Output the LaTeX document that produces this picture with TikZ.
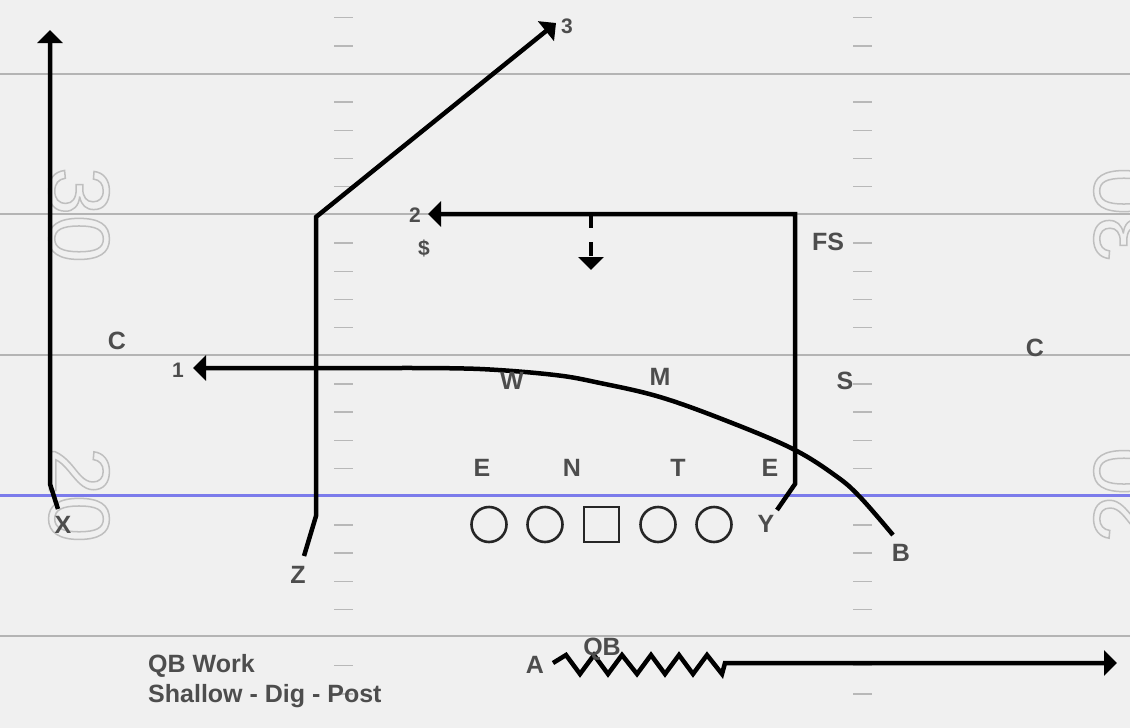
\documentclass[tikz,border=0pt]{standalone}
\usepackage{fontspec}
\setmainfont{Liberation Sans}
\usetikzlibrary{arrows.meta}
\definecolor{bg}{HTML}{F0F0F0}
\definecolor{yardline}{HTML}{B4B4B4}
\definecolor{hashc}{HTML}{B8B8B8}
\definecolor{losc}{HTML}{7B7BEB}
\definecolor{lbl}{HTML}{4D4D4D}
\newcommand{\outlinenum}[1]{\special{pdf:literal direct q 1 Tr 1.5 w 0.75 0.75 0.75 RG}#1\special{pdf:literal direct Q}}
\tikzset{
  lab/.style={inner sep=0pt, text=lbl, font=\fontsize{25}{25}\selectfont\bfseries},
  numlab/.style={inner sep=0pt, text=lbl, font=\fontsize{21}{21}\selectfont\bfseries},
  txt/.style={inner sep=0pt, anchor=west, text=lbl, font=\fontsize{25}{25}\selectfont\bfseries},
  route/.style={line width=4.5pt, black, line join=miter},
  tip/.style={-{Triangle[length=13pt,width=25pt]}},
  yardnum/.style={inner sep=0pt, font=\fontsize{86}{86}\selectfont},
  fline/.style={yardline, line width=2.5pt},
  hash/.style={hashc, line width=1.4pt},
  lineman/.style={draw=black!85, line width=2.6pt, minimum size=35pt, inner sep=0pt},
}
\begin{document}
\begin{tikzpicture}[x=1pt,y=-1pt]
\useasboundingbox (0,0) rectangle (1130,728);
\fill[bg] (0,0) rectangle (1130,728);
% field lines
\foreach \yy in {74,214,355,636} \draw[fline] (0,\yy) -- (1130,\yy);
\draw[losc, line width=3pt] (0,495) -- (1130,495);
% hash marks
\foreach \j in {-2,...,22} {
  \pgfmathtruncatemacro{\m}{mod(\j+10,5)}
  \ifnum\m=0\else
    \pgfmathsetmacro{\yy}{74+28.18*\j}
    \draw[hash] (334,\yy) -- (353,\yy);
    \draw[hash] (853,\yy) -- (872,\yy);
  \fi
}
% yard numbers
\node[yardnum, rotate=-90] (n30l) at (79,215) {\outlinenum{30}};
\node[yardnum, rotate=-90] (n20l) at (79,495) {\outlinenum{20}};
\node[yardnum, rotate=90] (n30r) at (1124,215) {\outlinenum{30}};
\node[yardnum, rotate=90] (n20r) at (1124,495) {\outlinenum{20}};

% route coordinates
\coordinate (xs) at (58,509);
\coordinate (xb) at (50,484);
\coordinate (xe) at (50,30);
\coordinate (zs) at (304,556);
\coordinate (zb) at (316,516);
\coordinate (zc) at (316,217);
\coordinate (ze) at (556,23);
\coordinate (ys) at (777,510);
\coordinate (yb) at (795,484);
\coordinate (yc) at (795,214);
\coordinate (ye) at (428,214);
\coordinate (ds) at (591,214);
\coordinate (de) at (591,270);
\coordinate (bs) at (893,535);
\coordinate (bc) at (400,368);
\coordinate (be) at (193,368);
\coordinate (qs) at (553,663);
\coordinate (qm) at (725,663);
\coordinate (qe) at (1117,663);

% routes
\draw[route, tip] (xs) -- (xb) -- (xe);
\draw[route, tip] (zs) -- (zb) -- (zc) -- (ze);
\draw[route, tip] (ys) -- (yb) -- (yc) -- (ye);
\draw[route, tip, dash pattern=on 14pt off 14pt] (ds) -- (de);
\draw[route, tip] plot[smooth, tension=0.6] coordinates {(bs) (860,497) (836,476) (793,449) (727,421) (660,397) (600,383) (555,375) (480,369) (bc)} -- (be);
\draw[route, tip] (qs) -- ++(13,-8) -- ++(14,19) -- ++(14,-19) -- ++(14,19) -- ++(14,-19)
  -- ++(15,19) -- ++(14,-19) -- ++(14,19) -- ++(14,-19) -- ++(14,19) -- ++(14,-19)
  -- ++(15,19) -- (qm) -- (qe);

% offensive line
\node[lineman, circle] (ol1) at (489,524.5) {};
\node[lineman, circle] (ol2) at (545,524.5) {};
\node[lineman, rectangle] (ctr) at (601.5,524.5) {};
\node[lineman, circle] (ol4) at (658,524.5) {};
\node[lineman, circle] (ol5) at (714,524.5) {};

% labels
\node[lab] (cl) at (117,341) {C};
\node[lab] (cr) at (1035,348) {C};
\node[lab] (fs) at (828,242) {FS};
\node[lab] (w) at (512,381) {W};
\node[lab] (m) at (660,377) {M};
\node[lab] (s) at (845,381) {S};
\node[lab] (e1) at (482,468) {E};
\node[lab] (nn) at (572,468) {N};
\node[lab] (tt) at (678,468) {T};
\node[lab] (e2) at (770,468) {E};
\node[lab] (xl) at (63,525) {X};
\node[lab] (zl) at (298,575) {Z};
\node[lab] (yl) at (766,524) {Y};
\node[lab] (bl) at (901,553) {B};
\node[numlab] (r1) at (178,370) {1};
\node[numlab] (r2) at (415,215) {2};
\node[numlab] (r3) at (567,26) {3};
\node[numlab] (dol) at (424,248) {\$};
\node[lab] (al) at (535,665) {A};
\node[lab] (qb) at (602,649) {QB};
\node[txt] (t1) at (148,666) {QB Work};
\node[txt] (t2) at (148,696) {Shallow - Dig - Post};
\end{tikzpicture}
\end{document}
